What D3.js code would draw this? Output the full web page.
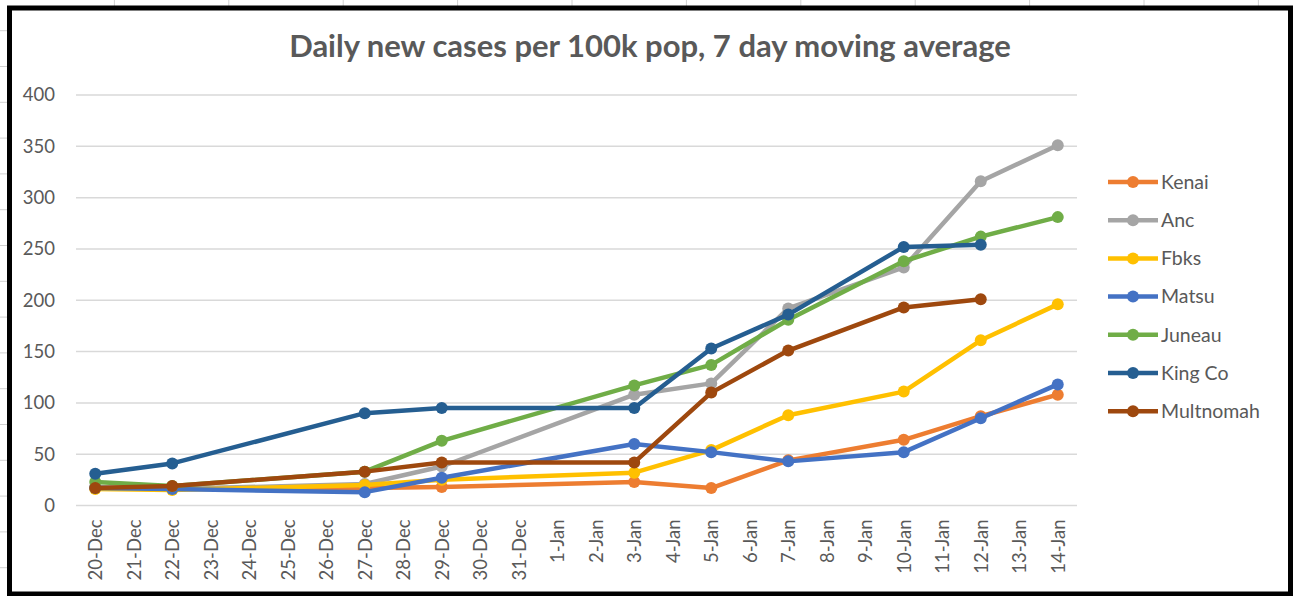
<!DOCTYPE html>
<html>
<head>
<meta charset="utf-8">
<script src="https://cdn.jsdelivr.net/npm/d3@7"></script>
<style>
  body { margin: 0; background: #fff; }
  text { font-family: Lato, "Open Sans", sans-serif; fill: #595959; }
</style>
</head>
<body>
<div id="line-chart"></div>
<script>
// Categories on the x axis (every day is shown as a tick label)
const allDays = [
  "20-Dec", "21-Dec", "22-Dec", "23-Dec", "24-Dec", "25-Dec", "26-Dec",
  "27-Dec", "28-Dec", "29-Dec", "30-Dec", "31-Dec", "1-Jan", "2-Jan",
  "3-Jan", "4-Jan", "5-Jan", "6-Jan", "7-Jan", "8-Jan", "9-Jan",
  "10-Jan", "11-Jan", "12-Jan", "13-Jan", "14-Jan"
];
// Days that have a measurement
const sampleDays = ["20-Dec", "22-Dec", "27-Dec", "29-Dec", "3-Jan", "5-Jan", "7-Jan", "10-Jan", "12-Jan", "14-Jan"];

// Series values (null = no value)
const kenai     = [17, 17, 17, 18, 23, 17, 44, 64, 87, 108];
const anc       = [18, 16, 21, 38, 108, 119, 192, 232, 316, 351];
const fbks      = [16, 15, 20, 25, 32, 54, 88, 111, 161, 196];
const matsu     = [17, 16, 13, 27, 60, 52, 43, 52, 85, 118];
const juneau    = [23, 19, 33, 63, 117, 137, 181, 238, 262, 281];
const kingCo    = [31, 41, 90, 95, 95, 153, 186, 252, 254, null];
const multnomah = [17, 19, 33, 42, 42, 110, 151, 193, 201, null];

const seriesNames = ["Kenai", "Anc", "Fbks", "Matsu", "Juneau", "King Co", "Multnomah"];
const seriesValues = [kenai, anc, fbks, matsu, juneau, kingCo, multnomah];
const seriesColors = ["#ED7D31", "#A5A5A5", "#FFC000", "#4472C4", "#70AD47", "#255E91", "#9E480E"];
const yTicks = [0, 50, 100, 150, 200, 250, 300, 350, 400];

const chartTitle = "Daily new cases per 100k pop, 7 day moving average";

const drawLineChart = () => {

  // ------ Create the drawing area ------- //
  const width = 1295;
  const height = 596;
  const margin = {top: 95, right: 218, bottom: 90.5, left: 76};
  const innerWidth = width - margin.left - margin.right;
  const innerHeight = height - margin.top - margin.bottom;

  const svg = d3.select("#line-chart")
    .append("svg")
    .attr("width", width)
    .attr("height", height)
    .attr("viewBox", [0, 0, width, height]);

  // Spreadsheet cells peeking out behind the chart
  const sheet = svg.append("g");
  d3.range(1, 12).forEach(i => {
    sheet.append("line")
      .attr("x1", i * 114.4).attr("x2", i * 114.4)
      .attr("y1", 0).attr("y2", 8)
      .attr("stroke", "#d0d0d0");
  });
  d3.range(0, 16).forEach(i => {
    sheet.append("line")
      .attr("x1", 0).attr("x2", 8)
      .attr("y1", 30.7 + i * 35.8).attr("y2", 30.7 + i * 35.8)
      .attr("stroke", "#d0d0d0");
  });

  // Chart frame
  svg.append("rect")
    .attr("x", 9.5)
    .attr("y", 8)
    .attr("width", 1281)
    .attr("height", 586)
    .attr("fill", "#fff")
    .attr("stroke", "#000")
    .attr("stroke-width", 5);

  // Title
  svg.append("text")
    .text(chartTitle)
    .attr("x", 650)
    .attr("y", 57)
    .attr("text-anchor", "middle")
    .style("font-size", "31px")
    .style("font-weight", "bold");

  const innerChart = svg
    .append("g")
    .attr("transform", `translate(${margin.left}, ${margin.top})`);

  // ------ Create scales and axes ------- //
  const xScale = d3.scalePoint()
    .domain(allDays)
    .range([0, innerWidth])
    .padding(0.5);

  const yScale = d3.scaleLinear()
    .domain([0, 400])
    .range([innerHeight, 0]);

  // Gridlines
  innerChart.append("g")
    .selectAll("line")
    .data(yTicks)
    .join("line")
      .attr("x1", 0)
      .attr("x2", innerWidth)
      .attr("y1", d => yScale(d))
      .attr("y2", d => yScale(d))
      .attr("stroke", "#d9d9d9")
      .attr("stroke-width", 1.5);

  // Left axis labels
  const leftAxis = d3.axisLeft(yScale)
    .tickValues(yTicks)
    .tickSize(0)
    .tickPadding(21);
  innerChart
    .append("g")
      .attr("class", "axis-y")
      .call(leftAxis);
  innerChart.select(".axis-y .domain").remove();
  innerChart.selectAll(".axis-y text")
    .style("font-size", "18.5px")
    .style("font-family", "Lato, sans-serif")
    .attr("fill", "#595959");

  // Bottom axis labels (rotated)
  const bottomAxis = d3.axisBottom(xScale)
    .tickSize(0);
  innerChart
    .append("g")
      .attr("class", "axis-x")
      .attr("transform", `translate(0, ${innerHeight})`)
      .call(bottomAxis);
  innerChart.select(".axis-x .domain").remove();
  innerChart.selectAll(".axis-x text")
    .attr("transform", "rotate(-90)")
    .attr("x", -14)
    .attr("y", 0)
    .attr("dy", "0.35em")
    .attr("text-anchor", "end")
    .style("font-size", "18.5px")
    .style("font-family", "Lato, sans-serif")
    .attr("fill", "#595959");

  // ------ Create the drawings ------- //
  const lineGenerator = d3.line()
    .defined(d => d.value !== null)
    .x(d => xScale(d.day))
    .y(d => yScale(d.value));

  seriesNames.forEach((name, i) => {
    const points = sampleDays.map((day, j) => ({day: day, value: seriesValues[i][j]}));
    const g = innerChart.append("g");
    g.append("path")
      .attr("d", lineGenerator(points))
      .attr("fill", "none")
      .attr("stroke", seriesColors[i])
      .attr("stroke-width", 4.5)
      .attr("stroke-linejoin", "round")
      .attr("stroke-linecap", "round");
    g.selectAll("circle")
      .data(points.filter(d => d.value !== null))
      .join("circle")
        .attr("cx", d => xScale(d.day))
        .attr("cy", d => yScale(d.value))
        .attr("r", 6)
        .attr("fill", seriesColors[i]);
  });

  // ------ Legend ------- //
  const legend = svg.append("g")
    .attr("transform", "translate(1108, 182)");
  const legendRows = legend.selectAll("g")
    .data(seriesNames)
    .join("g")
      .attr("transform", (d, i) => `translate(0, ${i * 38.2})`);
  legendRows.append("line")
    .attr("x1", 0)
    .attr("x2", 50)
    .attr("stroke", (d, i) => seriesColors[i])
    .attr("stroke-width", 4.5);
  legendRows.append("circle")
    .attr("cx", 25)
    .attr("r", 6)
    .attr("fill", (d, i) => seriesColors[i]);
  legendRows.append("text")
    .text(d => d)
    .attr("x", 53)
    .attr("dy", "0.35em")
    .style("font-size", "19.5px");
};

drawLineChart();
</script>
</body>
</html>
